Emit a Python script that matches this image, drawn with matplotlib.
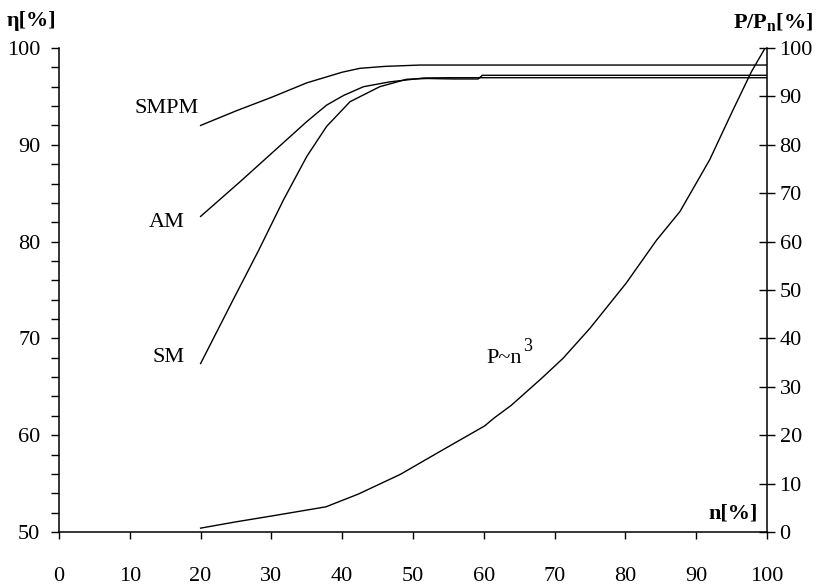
import matplotlib
matplotlib.use("Agg")
import matplotlib.pyplot as plt
from matplotlib.ticker import MultipleLocator

plt.rcParams['font.family'] = ['Liberation Serif', 'DejaVu Serif']
plt.rcParams['mathtext.fontset'] = 'custom'
plt.rcParams['mathtext.rm'] = 'Liberation Serif'
plt.rcParams['mathtext.it'] = 'Liberation Serif:italic'
plt.rcParams['mathtext.bf'] = 'Liberation Serif:bold'

# ---- data ----
smpm_n = [20, 25, 30, 35, 40, 42.5, 46, 51, 60, 100]
smpm_eta = [92.0, 93.5, 94.9, 96.4, 97.5, 97.9, 98.1, 98.24, 98.24, 98.24]

am_n = [20, 25.6, 30, 35, 37.8, 40.2, 43, 46.7, 51.5, 55, 60, 100]
am_eta = [82.6, 86.2, 89.1, 92.4, 94.1, 95.1, 96.0, 96.5, 96.9, 96.93, 96.93, 96.93]

sm_n = [20, 24.6, 28.2, 31.7, 35, 37.8, 41.1, 45.3, 49.1, 52, 55.7, 59.2, 59.8, 100]
sm_eta = [67.4, 74.0, 79.1, 84.3, 88.8, 91.9, 94.45, 96.0, 96.77, 96.85, 96.8, 96.8, 97.18, 97.18]

p_n = [20, 25, 30, 37.7, 42.3, 48.2, 54, 60.1, 61.5, 63.9, 68.2, 71.2, 75, 80.1,
       84.4, 87.7, 91.9, 95.2, 97.8, 99.7]
p_val = [0.8, 2.1, 3.3, 5.2, 7.85, 11.9, 16.8, 21.9, 23.6, 26.2, 31.8, 35.9, 42.1, 51.4,
         60.3, 66.2, 76.9, 87.2, 95.1, 99.9]

x_ticks = [0, 10, 20, 30, 40, 50, 60, 70, 80, 90, 100]
eta_ticks = [50, 60, 70, 80, 90, 100]
p_ticks = [0, 10, 20, 30, 40, 50, 60, 70, 80, 90, 100]

FS = 16
fig = plt.figure(figsize=(8.21, 5.85), dpi=100)
ax = fig.add_axes([59/821, 1-532/585, (767-59)/821, (532-48)/585])
ax2 = ax.twinx()

lw = 1.0
ax.plot(smpm_n, smpm_eta, color='black', lw=lw)
ax.plot(am_n, am_eta, color='black', lw=lw)
ax.plot(sm_n, sm_eta, color='black', lw=lw)
ax2.plot(p_n, p_val, color='black', lw=lw)

ax.set_xlim(0, 100)
ax.set_ylim(50, 100)
ax2.set_ylim(0, 100)

for a in (ax, ax2):
    a.spines['top'].set_visible(False)
    for s in a.spines.values():
        s.set_linewidth(1.1)
ax.spines['right'].set_visible(False)
ax2.spines['left'].set_visible(False)
ax2.spines['bottom'].set_visible(False)

ax.set_xticks(x_ticks)
ax.set_xticklabels([str(t) for t in x_ticks], fontsize=FS)
ax.set_yticks(eta_ticks)
ax.set_yticklabels([str(t) for t in eta_ticks], fontsize=FS)
ax.yaxis.set_minor_locator(MultipleLocator(2))
ax.tick_params(axis='x', direction='out', length=5, width=1.0, pad=20)
ax.tick_params(axis='y', which='both', direction='out', length=5.5, width=1.0, pad=8)

ax2.set_yticks(p_ticks)
ax2.set_yticklabels([str(t) for t in p_ticks], fontsize=FS)
ax2.tick_params(axis='y', direction='inout', length=12, width=1.0, pad=3)

# curve labels
ax.text(19.8, 93.8, 'SMPM', ha='right', va='center', fontsize=FS)
ax.text(17.7, 81.95, 'AM', ha='right', va='center', fontsize=FS)
ax.text(17.7, 68.0, 'SM', ha='right', va='center', fontsize=FS)
ax2.text(60.4, 35.95, 'P~n', ha='left', va='center', fontsize=FS)
ax2.text(65.6, 36.6, '3', ha='left', va='bottom', fontsize=13)
ax.text(98.7, 51.96, 'n[%]', ha='right', va='center', fontsize=FS, fontweight='bold')

fig.text(7/821, 1-21/585, 'η[%]', ha='left', va='center', fontsize=FS, fontweight='bold')
fig.text(813/821, 1-22/585, r'P/P$_{\mathbf{n}}$[%]', ha='right', va='center',
         fontsize=FS, fontweight='bold')

fig.savefig('out.png', dpi=100)
